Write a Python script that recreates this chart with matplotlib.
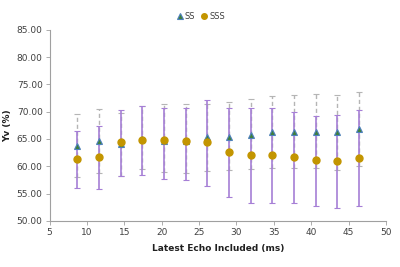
import numpy as np
import matplotlib.pyplot as plt

# latest echo time (ms)
echo = [8.7, 11.6, 14.5, 17.4, 20.3, 23.2, 26.1, 29.0, 31.9, 34.8, 37.7, 40.6, 43.5, 46.4]

# SS series: mean and error bar ends
ss = [63.7, 64.6, 64.0, 65.0, 64.7, 64.6, 65.3, 65.4, 65.8, 66.2, 66.2, 66.3, 66.2, 66.8]
ss_hi = [69.6, 70.5, 69.8, 71.0, 71.4, 71.5, 71.4, 71.8, 72.3, 72.9, 73.0, 73.2, 73.0, 73.6]
ss_lo = [58.0, 58.7, 58.2, 59.5, 59.0, 58.7, 59.1, 59.3, 59.5, 59.6, 59.6, 59.6, 59.4, 60.0]

# SSS series
sss = [61.3, 61.7, 64.4, 64.9, 64.75, 64.7, 64.4, 62.6, 62.0, 62.1, 61.7, 61.2, 61.0, 61.6]
sss_hi = [66.5, 67.4, 70.3, 71.0, 70.7, 70.7, 72.15, 70.6, 70.6, 70.6, 69.9, 69.3, 69.4, 70.3]
sss_lo = [56.1, 55.9, 58.3, 58.45, 57.6, 57.5, 56.4, 54.35, 53.2, 53.2, 53.3, 52.8, 52.3, 52.8]

ss_a, sss_a = np.array(ss), np.array(sss)
ss_err = [ss_a - np.array(ss_lo), np.array(ss_hi) - ss_a]
sss_err = [sss_a - np.array(sss_lo), np.array(sss_hi) - sss_a]

fig = plt.figure(figsize=(4, 2.67), dpi=100)
ax = fig.add_axes([0.124, 0.173, 0.841, 0.715])

# error bars (gray dashed for SS, purple for SSS)
eb1 = ax.errorbar(echo, ss, yerr=ss_err, fmt='none', ecolor='#B5B5B5', elinewidth=1.0,
                  capsize=2.5, capthick=0.8, zorder=2)
eb1[2][0].set_linestyle((0, (3, 2)))
ax.errorbar(echo, sss, yerr=sss_err, fmt='none', ecolor='#A67FD6', elinewidth=1.2,
            capsize=2.5, capthick=0.8, zorder=3)

ax.plot(echo, ss, '^', ms=4.8, mfc='#3F7F3A', mec='#4F81BD', mew=0.8,
        ls='none', label='SS', zorder=4)
ax.plot(echo, sss, 'o', ms=5, mfc='#C39500', mec='#C39500',
        ls='none', label='SSS', zorder=5)

ax.set_xlim(5, 50)
ax.set_ylim(50, 85)
ax.set_xticks(np.arange(5, 51, 5))
ax.set_yticks(np.arange(50, 86, 5))
ax.set_yticklabels(['%.2f' % v for v in np.arange(50, 86, 5)])
ax.tick_params(labelsize=6.5, colors='#404040', length=3, width=0.6, pad=2)
ax.tick_params(axis='both', color='#A0A0A0')

for s in ['top', 'right']:
    ax.spines[s].set_visible(False)
for s in ['left', 'bottom']:
    ax.spines[s].set_color('#A0A0A0')
    ax.spines[s].set_linewidth(0.8)

ax.set_xlabel('Latest Echo Included (ms)', fontsize=6.5, fontweight='bold', color='#202020', labelpad=5)
ax.set_ylabel('Yv (%)', fontsize=6.5, fontweight='bold', color='#202020', labelpad=3)

fig.legend(loc='upper center', bbox_to_anchor=(0.5, 0.985), ncol=2, frameon=False,
           fontsize=6, handletextpad=0.0, columnspacing=0.5, handlelength=1.2,
           markerscale=0.8, labelcolor='#404040')

fig.savefig('out.png', dpi=100)
